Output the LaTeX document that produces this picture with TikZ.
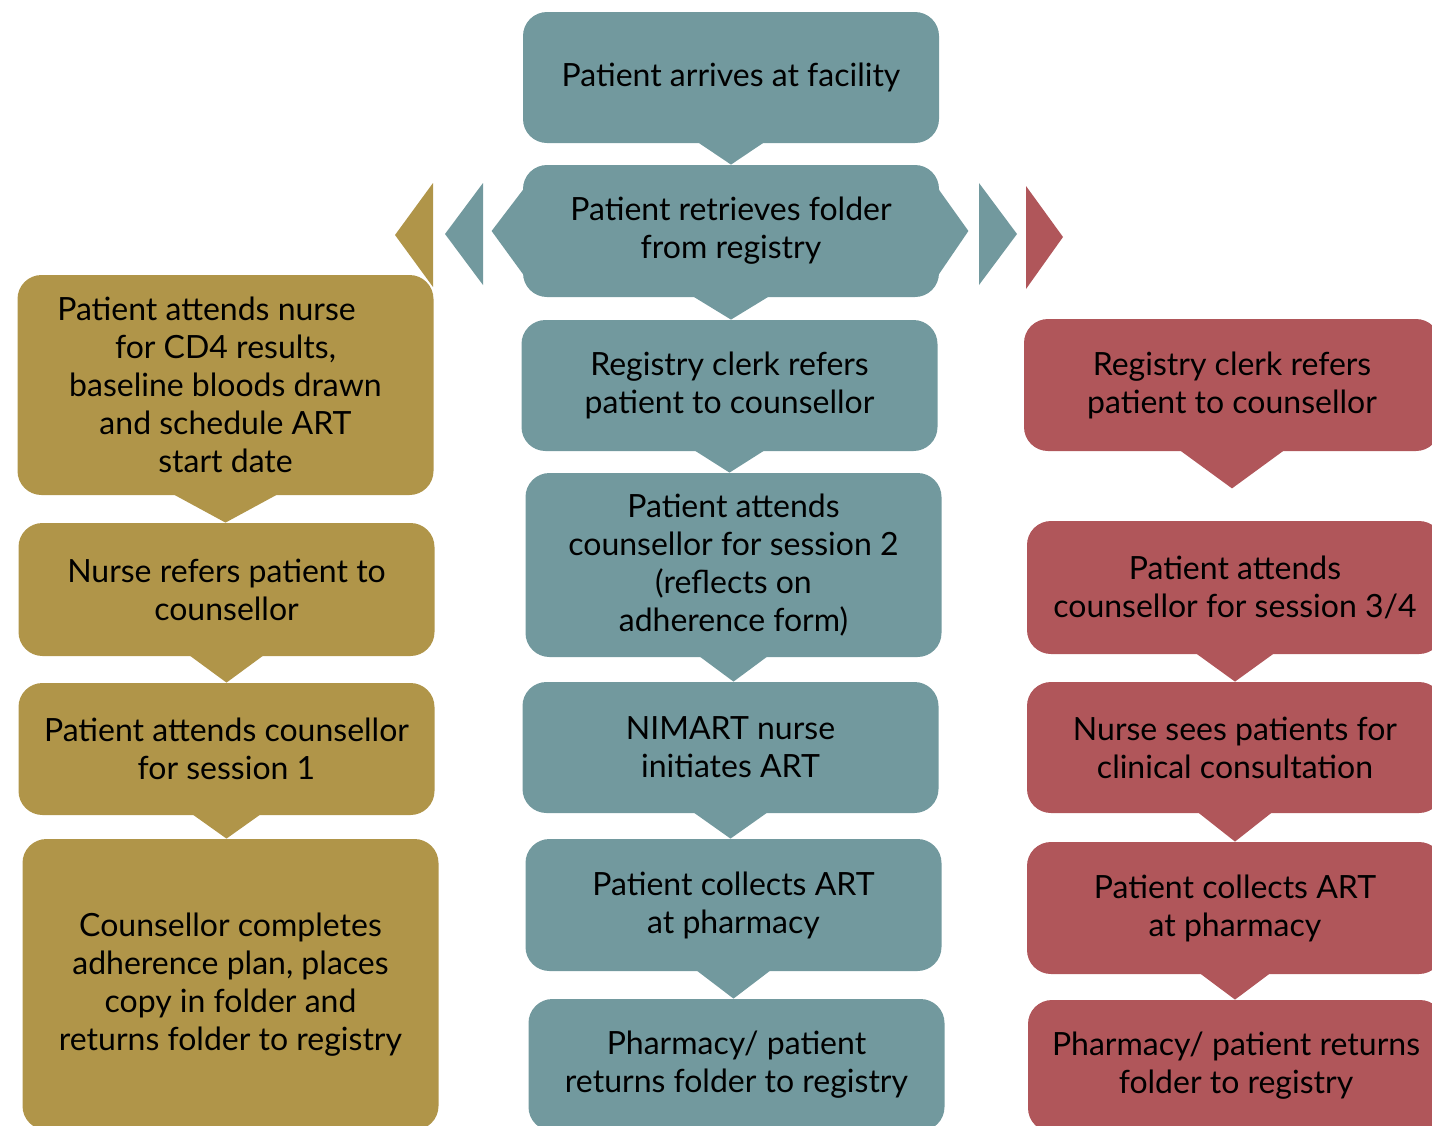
\documentclass[tikz,border=0pt]{standalone}
\usepackage{fontspec}
\setmainfont{Lato}
\usetikzlibrary{calc}
\definecolor{tealbox}{RGB}{114,153,158}
\definecolor{goldbox}{RGB}{176,149,73}
\definecolor{redbox}{RGB}{176,86,90}
\newcommand{\pointer}[4]{\fill[#1] ($(#2.south)+(-#4,-1)$) -- ($(#2.south)+(#4,-1)$) -- (#2.south |- #3) -- cycle;}
\begin{document}
\begin{tikzpicture}[x=0.5pt, y=-0.5pt,
 flowbox/.style={fill=#1, rounded corners=12pt, minimum width=208pt, inner sep=0pt, align=center, text=black, font=\fontsize{16}{19}\selectfont}]
 \useasboundingbox (0,0) rectangle (1432,1126);
 \clip (0,0) rectangle (1432,1126);
 % middle column
 \node[flowbox=tealbox, minimum height=65.5pt] (m1) at (731,77.5) {Patient arrives at facility};
 \node[flowbox=tealbox, minimum height=66pt] (m2) at (731,231) {Patient retrieves folder\\from registry};
 \node[flowbox=tealbox, minimum height=65.5pt] (m3) at (729.5,385.5) {Registry clerk refers\\patient to counsellor};
 \node[flowbox=tealbox, minimum height=92pt] (m4) at (733.5,565) {Patient attends\\counsellor for session 2\\(reflects on\\adherence form)};
 \node[flowbox=tealbox, minimum height=65.5pt] (m5) at (730.5,747.5) {NIMART nurse\\initiates ART};
 \node[flowbox=tealbox, minimum height=66pt] (m6) at (733.5,905) {Patient collects ART\\at pharmacy};
 \node[flowbox=tealbox, minimum height=66pt] (m7) at (736.5,1065) {Pharmacy/ patient\\returns folder to registry};
 % left column
 \node[flowbox=goldbox, minimum height=110pt] (l1) at (225.5,385) {Patient attends nurse\hspace*{19pt}\\for CD4 results,\\baseline bloods drawn\\and schedule ART\\start date};
 \node[flowbox=goldbox, minimum height=66.5pt] (l2) at (226.5,589.5) {Nurse refers patient to\\counsellor};
 \node[flowbox=goldbox, minimum height=66pt] (l3) at (226.5,749) {Patient attends counsellor\\for session 1};
 \node[flowbox=goldbox, minimum height=145.5pt] (l4) at (230.5,984.5) {Counsellor completes\\adherence plan, places\\copy in folder and\\returns folder to registry};
 % right column
 \node[flowbox=redbox, minimum height=66pt] (r1) at (1232,385) {Registry clerk refers\\patient to counsellor};
 \node[flowbox=redbox, minimum height=66.5pt] (r2) at (1235,587.5) {Patient attends\\counsellor for session 3/4};
 \node[flowbox=redbox, minimum height=65.5pt] (r3) at (1235,747.5) {Nurse sees patients for\\clinical consultation};
 \node[flowbox=redbox, minimum height=66pt] (r4) at (1235,908) {Patient collects ART\\at pharmacy};
 \node[flowbox=redbox, minimum height=66pt] (r5) at (1236,1066) {Pharmacy/ patient returns\\folder to registry};
 \coordinate (r1tip) at ($(r1.south)+(0,37)$);
 % pointers
 \pointer{tealbox}{m1}{m2.north}{33}
 \pointer{tealbox}{m2}{m3.north}{38}
 \pointer{tealbox}{m3}{m4.north}{35}
 \pointer{tealbox}{m4}{m5.north}{34}
 \pointer{tealbox}{m5}{m6.north}{37}
 \pointer{tealbox}{m6}{m7.north}{37}
 \pointer{goldbox}{l1}{l2.north}{52}
 \pointer{goldbox}{l2}{l3.north}{37}
 \pointer{goldbox}{l3}{l4.north}{34}
 \pointer{redbox}{r1}{r1tip}{52}
 \pointer{redbox}{r2}{r3.north}{39}
 \pointer{redbox}{r3}{r4.north}{37}
 \pointer{redbox}{r4}{r5.north}{35}
 % side points of the folder box
 \fill[tealbox] ($(m2.west)+(1,-42)$) -- ($(m2.west)+(-31,0)$) -- ($(m2.west)+(1,44)$) -- cycle;
 \fill[tealbox] ($(m2.east)+(-1,-42)$) -- ($(m2.east)+(29,0)$) -- ($(m2.east)+(-1,44)$) -- cycle;
 % branch arrows
 \fill[goldbox] (433,183) -- (395,235) -- (433,287) -- cycle;
 \fill[tealbox] (483,183) -- (445,234) -- (483,285) -- cycle;
 \fill[tealbox] (979,183) -- (1017,234) -- (979,285) -- cycle;
 \fill[redbox] (1026,186) -- (1063,237) -- (1026,289) -- cycle;
\end{tikzpicture}
\end{document}
